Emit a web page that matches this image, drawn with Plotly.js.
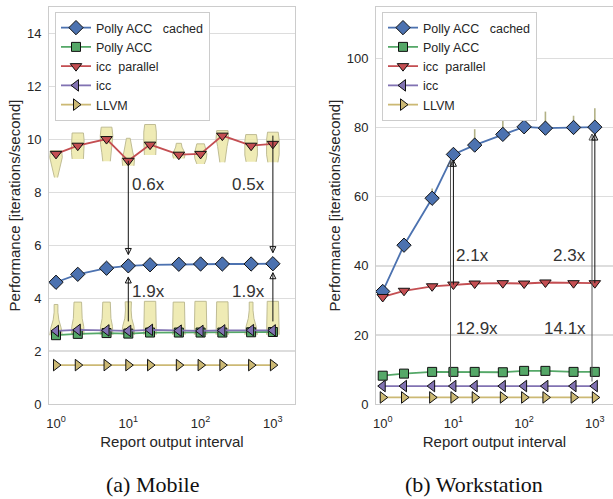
<!DOCTYPE html>
<html><head><meta charset="utf-8">
<script src="https://cdn.plot.ly/plotly-3.0.1.min.js"></script>
<style>html,body{margin:0;padding:0;background:#fff;} #chart{width:613px;height:499px;}</style>
</head><body><div id="chart"></div>
<script>
// ---------- data ----------
const xVals = [1, 2, 5, 10, 20, 50, 100, 200, 500, 1000];
const tickVals = [1, 10, 100, 1000];
const tickText = ['10<sup>0</sup>', '10<sup>1</sup>', '10<sup>2</sup>', '10<sup>3</sup>'];
const seriesNames = ['Polly ACC\u00a0\u00a0 cached', 'Polly ACC', 'icc\u00a0 parallel', 'icc', 'LLVM'];
const seriesColors = ['#4C72B0', '#55A868', '#C44E52', '#8172B2', '#CCB974'];
const seriesSymbols = ['diamond', 'square', 'triangle-down', 'triangle-left', 'triangle-right'];

// (a) Mobile
const mobPollyCached = [4.60, 4.90, 5.13, 5.22, 5.26, 5.28, 5.29, 5.29, 5.29, 5.30];
const mobPolly       = [2.60, 2.65, 2.68, 2.66, 2.70, 2.70, 2.70, 2.70, 2.71, 2.72];
const mobIccPar      = [9.45, 9.76, 10.01, 9.19, 9.80, 9.42, 9.45, 10.14, 9.76, 9.83];
const mobIcc         = [2.76, 2.80, 2.78, 2.76, 2.80, 2.77, 2.76, 2.78, 2.79, 2.78];
const mobLLVM        = [1.47, 1.47, 1.47, 1.47, 1.47, 1.47, 1.47, 1.47, 1.47, 1.47];
// violin extents (icc parallel runs)
const mobParVioLow  = [8.56, 9.26, 9.17, 9.00, 9.41, 9.28, 9.07, 9.13, 9.15, 9.13];
const mobParVioHigh = [9.57, 10.24, 10.46, 10.04, 10.56, 9.85, 9.83, 10.33, 10.18, 10.27];
const mobParVioShape = [
  [0.25, 0.45, 0.75, 1.0, 0.9], [0.9, 1.0, 1.0, 1.0, 0.9], [0.6, 0.75, 0.95, 1.0, 0.85],
  [0.9, 1.0, 0.7, 0.45, 0.3], [0.9, 1.0, 1.0, 1.0, 0.85], [0.85, 1.0, 0.8, 0.5, 0.4],
  [0.6, 0.9, 1.0, 0.8, 0.6], [0.4, 0.55, 0.75, 1.0, 0.9], [0.8, 1.0, 1.0, 1.0, 0.85],
  [0.8, 1.0, 1.0, 1.0, 0.85]
];
// violin extents (sequential runs)
const mobSeqVioLow  = [2.60, 2.62, 2.62, 2.62, 2.62, 2.62, 2.62, 2.62, 2.62, 2.62];
const mobSeqVioHigh = [3.76, 3.85, 3.85, 3.86, 3.88, 3.85, 3.88, 3.86, 3.85, 3.88];
const mobSeqVioShape = [
  [1.0, 0.8, 0.45, 0.3, 0.3], [1.0, 0.95, 0.7, 0.6, 0.6], [1.0, 0.95, 0.7, 0.65, 0.6],
  [1.0, 0.9, 0.55, 0.45, 0.5], [1.0, 1.0, 0.95, 0.95, 0.9], [1.0, 1.0, 0.95, 0.95, 0.9],
  [1.0, 1.0, 0.95, 0.95, 0.9], [1.0, 1.0, 0.95, 0.95, 0.9], [1.0, 0.8, 0.45, 0.3, 0.3],
  [1.0, 1.0, 0.95, 0.95, 0.9]
];
// speed-up arrows (mobile)
const mobArrowX = [10, 1000];
const mobArrowTop = [9.19, 10.14];      // start of downward arrows
const mobArrowDownTip = [5.65, 5.72];   // tip of downward arrows
const mobArrowBottom = [3.12, 3.12];    // start of upward arrows
const mobArrowUpTip = [4.80, 4.96];     // tip of upward arrows
const mobLabelsTop = ['0.6x', '0.5x'];
const mobLabelsBottom = ['1.9x', '1.9x'];
const mobLabelTopY = 8.3;
const mobLabelBottomY = 4.26;

// (b) Workstation
const wsPollyCached = [32.6, 46.0, 59.6, 72.3, 75.0, 78.1, 80.3, 79.9, 80.1, 80.2];
const wsPolly       = [8.2, 8.8, 9.3, 9.3, 9.3, 9.2, 9.6, 9.6, 9.3, 9.3];
const wsIccPar      = [31.0, 32.8, 34.1, 34.6, 34.9, 35.0, 34.9, 35.2, 35.0, 35.0];
const wsIcc         = [5.2, 5.2, 5.2, 5.2, 5.2, 5.2, 5.2, 5.2, 5.2, 5.2];
const wsLLVM        = [1.9, 1.9, 1.9, 1.9, 1.9, 1.9, 1.9, 1.9, 1.9, 1.9];
const wsVioHigh     = [null, null, 62.4, null, 79.6, 83.5, 85.0, 84.7, 83.5, 85.7];
// speed-up arrows (workstation)
const wsArrowX = [10, 1000];
const wsSeqArrowX = [9.1, 912];
const wsArrowTip = [70.6, 78.2];
const wsArrowPar = [34.6, 35.0];
const wsArrowSeq = [6.5, 6.5];
const wsLabelsPar = ['2.1x', '2.3x'];
const wsLabelsSeq = ['12.9x', '14.1x'];
const wsLabelParY = 43.1;
const wsLabelSeqY = 22.0;

// ---------- build ----------
const FONT = 'Liberation Sans, Arial, sans-serif';
const TXT = '#262626';

function violinPolys(xs, lows, highs, profiles, halfDec) {
  const px = [], py = [];
  xs.forEach((xc, i) => {
    const lx = Math.log10(xc), prof = profiles[i], n = prof.length;
    const pts = [];
    for (let k = 0; k < n; k++) {
      const f = k / (n - 1);
      pts.push([lows[i] + f * (highs[i] - lows[i]), prof[k] * halfDec]);
    }
    pts.forEach(p => { px.push(Math.pow(10, lx + p[1])); py.push(p[0]); });
    for (let k = n - 1; k >= 0; k--) { px.push(Math.pow(10, lx - pts[k][1])); py.push(pts[k][0]); }
    px.push(null); py.push(null);
  });
  return { px, py };
}

const traces = [];
const vFill = 'rgba(236,232,168,0.85)';
const vLine = 'rgba(185,182,140,0.9)';
[[mobParVioLow, mobParVioHigh, mobParVioShape], [mobSeqVioLow, mobSeqVioHigh, mobSeqVioShape]].forEach(v => {
  const p = violinPolys(xVals, v[0], v[1], v[2], 0.087);
  traces.push({ x: p.px, y: p.py, xaxis: 'x', yaxis: 'y', mode: 'lines', fill: 'toself',
    fillcolor: vFill, line: { color: vLine, width: 1 }, showlegend: false, hoverinfo: 'skip' });
});
(function () {
  const vx = [], vy = [];
  xVals.forEach((xc, i) => {
    if (wsVioHigh[i] === null) return;
    vx.push(xc, xc, null); vy.push(wsPollyCached[i], wsVioHigh[i], null);
  });
  traces.push({ x: vx, y: vy, xaxis: 'x2', yaxis: 'y2', mode: 'lines',
    line: { color: 'rgba(170,168,120,0.9)', width: 1.6 }, showlegend: false, hoverinfo: 'skip' });
})();

// arrows as shafts + heads
function arrowTraces(xa, ya, xs, tails, tips, dir, color) {
  const sx = [], sy = [];
  xs.forEach((x, i) => { sx.push(x, x, null); sy.push(tails[i], tips[i], null); });
  traces.push({ x: sx, y: sy, xaxis: xa, yaxis: ya, mode: 'lines', line: { color: color, width: 1 },
    showlegend: false, hoverinfo: 'skip' });
  traces.push({ x: xs, y: tips, xaxis: xa, yaxis: ya, mode: 'markers',
    marker: { symbol: dir === 'up' ? 'arrow-up-open' : 'arrow-down-open', size: 6, color: color,
      line: { color: color, width: 1 } }, showlegend: false, hoverinfo: 'skip' });
}

const mobSeries = [mobPollyCached, mobPolly, mobIccPar, mobIcc, mobLLVM];
const wsSeries = [wsPollyCached, wsPolly, wsIccPar, wsIcc, wsLLVM];
const mSizes = [11, 9, 10, 10, 10];
mobSeries.forEach((s, i) => {
  traces.push({ x: xVals, y: s, xaxis: 'x', yaxis: 'y', name: seriesNames[i], mode: 'lines+markers',
    line: { color: seriesColors[i], width: 1.8 },
    marker: { symbol: seriesSymbols[i], size: mSizes[i], color: seriesColors[i], line: { color: '#111', width: 1 } },
    legend: 'legend' });
});
wsSeries.forEach((s, i) => {
  traces.push({ x: xVals, y: s, xaxis: 'x2', yaxis: 'y2', name: seriesNames[i], mode: 'lines+markers',
    line: { color: seriesColors[i], width: 1.8 },
    marker: { symbol: seriesSymbols[i], size: mSizes[i], color: seriesColors[i], line: { color: '#111', width: 1 } },
    legend: 'legend2' });
});
arrowTraces('x', 'y', mobArrowX, mobArrowTop, mobArrowDownTip, 'down', '#111');
arrowTraces('x', 'y', mobArrowX, mobArrowBottom, mobArrowUpTip, 'up', '#111');
arrowTraces('x2', 'y2', wsSeqArrowX, wsArrowSeq, wsArrowTip, 'up', '#555');
arrowTraces('x2', 'y2', wsArrowX, wsArrowPar, wsArrowTip, 'up', '#111');

const ann = [];
function label(xr, yr, x, y, t, anchor, shift) {
  ann.push({ xref: xr, yref: yr, x: Math.log10(x), y: y, text: t, showarrow: false,
    xanchor: anchor, yanchor: 'middle', xshift: shift, font: { family: FONT, size: 17, color: '#333' } });
}
mobArrowX.forEach((x, i) => {
  const anc = i === 0 ? 'left' : 'right', sh = i === 0 ? 2 : -6;
  label('x', 'y', x, mobLabelTopY, mobLabelsTop[i], anc, sh);
  label('x', 'y', x, mobLabelBottomY, mobLabelsBottom[i], anc, sh);
});
wsArrowX.forEach((x, i) => {
  const anc = i === 0 ? 'left' : 'right', sh = i === 0 ? 1 : -7;
  label('x2', 'y2', x, wsLabelParY, wsLabelsPar[i], anc, sh);
  label('x2', 'y2', x, wsLabelSeqY, wsLabelsSeq[i], anc, sh);
});
const capFont = { family: 'Liberation Serif, Times New Roman, serif', size: 22, color: '#111' };
ann.push({ xref: 'paper', yref: 'paper', x: 152 / 613, y: 0, xanchor: 'center', yanchor: 'bottom',
  text: '(a) Mobile', showarrow: false, font: capFont });
ann.push({ xref: 'paper', yref: 'paper', x: 474 / 613, y: 0, xanchor: 'center', yanchor: 'bottom',
  text: '(b) Workstation', showarrow: false, font: capFont });

const yDom = [95 / 499, 492 / 499];
const tickF = { family: FONT, size: 13, color: TXT };
const titleF = { family: FONT, size: 15, color: TXT };
function xAx(dom, rng, anchor) {
  return { domain: dom, type: 'log', range: rng, tickvals: tickVals, ticktext: tickText, showgrid: false,
    zeroline: false, showline: true, mirror: true, linecolor: '#cccccc', linewidth: 1, ticks: '',
    tickfont: tickF, ticklabelstandoff: 7, anchor: anchor,
    title: { text: 'Report output interval', font: titleF, standoff: 6 } };
}
function yAx(rng, dt, anchor, mirror) {
  return { domain: yDom, range: rng, dtick: dt, tick0: 0, showgrid: true, gridcolor: '#dddddd', gridwidth: 1.2,
    zeroline: false, showline: true, mirror: mirror, linecolor: '#cccccc', linewidth: 1, ticks: '',
    tickfont: tickF, ticklabelstandoff: 4, anchor: anchor,
    title: { text: 'Performance [iterations/second]', font: titleF, standoff: 2 } };
}
const legBase = { bgcolor: '#ffffff', bordercolor: '#cccccc', borderwidth: 1, xanchor: 'left', yanchor: 'top',
  font: { family: FONT, size: 12.5, color: TXT }, tracegroupgap: 0 };
const layout = {
  width: 613, height: 499, margin: { l: 0, r: 0, t: 0, b: 0 }, paper_bgcolor: '#fff', plot_bgcolor: '#fff',
  font: { family: FONT, color: TXT }, showlegend: true,
  xaxis: xAx([49 / 613, 295 / 613], [-0.097, 3.306], 'y'),
  yaxis: yAx([0, 15], 2, 'x', true),
  xaxis2: xAx([376 / 613, 1], [-0.095, 3.257], 'y2'),
  yaxis2: yAx([0, 115], 20, 'x2', false),
  legend: Object.assign({ x: 55 / 613, y: 487 / 499 }, legBase),
  legend2: Object.assign({ x: 382 / 613, y: 487 / 499 }, legBase),
  annotations: ann
};
Plotly.newPlot('chart', traces, layout, { staticPlot: true, displayModeBar: false });
</script></body></html>
